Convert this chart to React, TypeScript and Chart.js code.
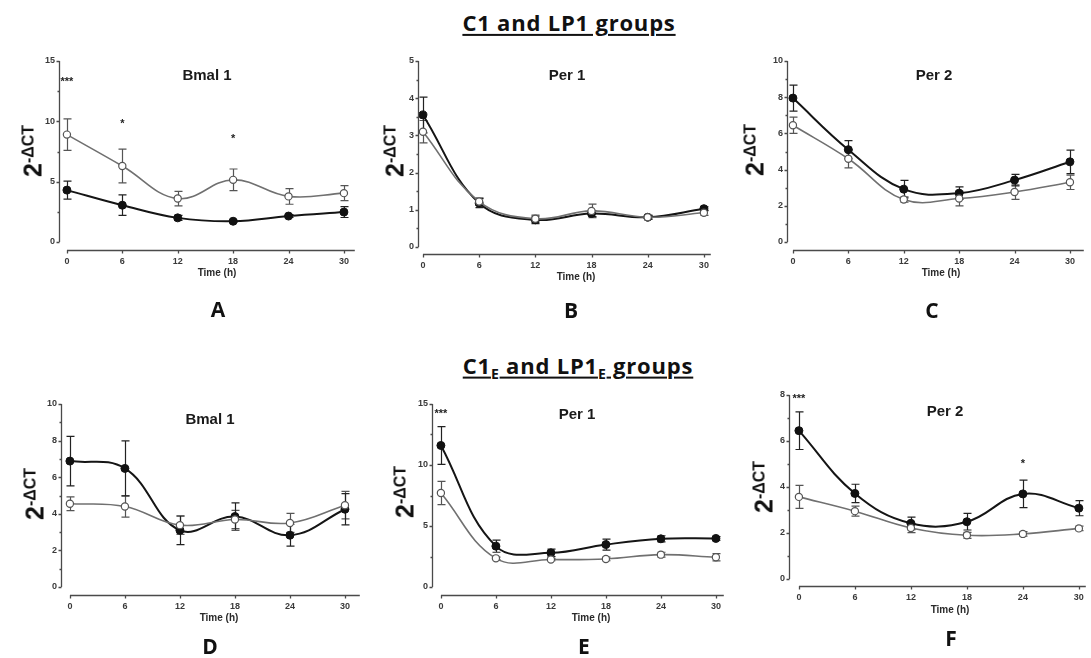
import React, { useEffect, useRef } from "react";
import { Chart, registerables } from "chart.js";

Chart.register(...registerables);

// ---------- shared axes ----------
const HOURS = [0, 6, 12, 18, 24, 30];
const X_TICKS = [0, 6, 12, 18, 24, 30];

// ---------- Panel A : Bmal 1 (C1 / LP1) ----------
const A_FILLED = [4.3, 3.05, 2.0, 1.72, 2.15, 2.48];
const A_FILLED_SEM = [0.75, 0.85, 0.2, 0.1, 0.12, 0.45];
const A_OPEN = [8.9, 6.3, 3.6, 5.15, 3.78, 4.05];
const A_OPEN_SEM = [1.3, 1.4, 0.6, 0.9, 0.65, 0.62];
const A_Y_TICKS = [0, 5, 10, 15];
const A_STARS = [
  { x: 0, y: 13.3, text: "***" },
  { x: 6, y: 9.8, text: "*" },
  { x: 18, y: 8.5, text: "*" },
];

// ---------- Panel B : Per 1 (C1 / LP1) ----------
const B_FILLED = [3.55, 1.18, 0.73, 0.9, 0.8, 1.03];
const B_FILLED_SEM = [0.48, 0.12, 0.1, 0.08, 0.05, 0.05];
const B_OPEN = [3.1, 1.22, 0.76, 0.97, 0.8, 0.92];
const B_OPEN_SEM = [0.3, 0.1, 0.1, 0.18, 0.05, 0.07];
const B_Y_TICKS = [0, 1, 2, 3, 4, 5];
const B_STARS: { x: number; y: number; text: string }[] = [];

// ---------- Panel C : Per 2 (C1 / LP1) ----------
const C_FILLED = [7.95, 5.1, 2.92, 2.7, 3.42, 4.43];
const C_FILLED_SEM = [0.72, 0.5, 0.48, 0.35, 0.32, 0.65];
const C_OPEN = [6.45, 4.6, 2.35, 2.4, 2.76, 3.3];
const C_OPEN_SEM = [0.45, 0.5, 0.15, 0.4, 0.4, 0.4];
const C_Y_TICKS = [0, 2, 4, 6, 8, 10];
const C_STARS: { x: number; y: number; text: string }[] = [];

// ---------- Panel D : Bmal 1 (C1E / LP1E) ----------
const D_FILLED = [6.88, 6.48, 3.1, 3.85, 2.83, 4.25];
const D_FILLED_SEM = [1.35, 1.5, 0.78, 0.75, 0.6, 0.85];
const D_OPEN = [4.55, 4.4, 3.38, 3.69, 3.5, 4.47];
const D_OPEN_SEM = [0.38, 0.58, 0.5, 0.5, 0.52, 0.75];
const D_Y_TICKS = [0, 2, 4, 6, 8, 10];
const D_STARS: { x: number; y: number; text: string }[] = [];

// ---------- Panel E : Per 1 (C1E / LP1E) ----------
const E_FILLED = [11.6, 3.35, 2.8, 3.48, 3.95, 3.98];
const E_FILLED_SEM = [1.55, 0.5, 0.3, 0.45, 0.25, 0.15];
const E_OPEN = [7.7, 2.35, 2.25, 2.3, 2.65, 2.44];
const E_OPEN_SEM = [0.95, 0.1, 0.1, 0.15, 0.2, 0.3];
const E_Y_TICKS = [0, 5, 10, 15];
const E_STARS = [{ x: 0, y: 14.2, text: "***" }];

// ---------- Panel F : Per 2 (C1E / LP1E) ----------
const F_FILLED = [6.45, 3.72, 2.42, 2.49, 3.7, 3.08];
const F_FILLED_SEM = [0.82, 0.4, 0.27, 0.36, 0.6, 0.33];
const F_OPEN = [3.57, 2.95, 2.22, 1.9, 1.96, 2.2];
const F_OPEN_SEM = [0.5, 0.22, 0.2, 0.13, 0.1, 0.1];
const F_Y_TICKS = [0, 2, 4, 6, 8];
const F_STARS = [
  { x: 0, y: 7.83, text: "***" },
  { x: 24, y: 5.0, text: "*" },
];

// ---------- layout (page pixels) ----------
type Geo = { L: number; x0: number; x30: number; R: number; T: number; y0: number; B: number };

const PANELS = [
  { id: "A", title: "Bmal 1", filled: A_FILLED, filledSem: A_FILLED_SEM, open: A_OPEN, openSem: A_OPEN_SEM, yTicks: A_Y_TICKS, stars: A_STARS,
    geo: { L: 59, x0: 67, x30: 347, R: 358, T: 61, y0: 242, B: 251 },
    titlePos: [207, 74], timePos: [217, 273], yTitlePos: [33, 151], letterPos: [218, 309] },
  { id: "B", title: "Per 1", filled: B_FILLED, filledSem: B_FILLED_SEM, open: B_OPEN, openSem: B_OPEN_SEM, yTicks: B_Y_TICKS, stars: B_STARS,
    geo: { L: 418, x0: 423, x30: 707, R: 714, T: 61, y0: 247, B: 255 },
    titlePos: [567, 74], timePos: [576, 277], yTitlePos: [395, 151], letterPos: [571, 310] },
  { id: "C", title: "Per 2", filled: C_FILLED, filledSem: C_FILLED_SEM, open: C_OPEN, openSem: C_OPEN_SEM, yTicks: C_Y_TICKS, stars: C_STARS,
    geo: { L: 787, x0: 793, x30: 1073, R: 1087, T: 61, y0: 242, B: 251 },
    titlePos: [934, 74], timePos: [941, 273], yTitlePos: [755, 150], letterPos: [932, 310] },
  { id: "D", title: "Bmal 1", filled: D_FILLED, filledSem: D_FILLED_SEM, open: D_OPEN, openSem: D_OPEN_SEM, yTicks: D_Y_TICKS, stars: D_STARS,
    geo: { L: 61, x0: 70, x30: 348, R: 363, T: 404, y0: 587, B: 596 },
    titlePos: [210, 418], timePos: [219, 618], yTitlePos: [35, 494], letterPos: [210, 646] },
  { id: "E", title: "Per 1", filled: E_FILLED, filledSem: E_FILLED_SEM, open: E_OPEN, openSem: E_OPEN_SEM, yTicks: E_Y_TICKS, stars: E_STARS,
    geo: { L: 432, x0: 441, x30: 719, R: 727, T: 404, y0: 587, B: 596 },
    titlePos: [577, 413], timePos: [591, 618], yTitlePos: [405, 492], letterPos: [584, 646] },
  { id: "F", title: "Per 2", filled: F_FILLED, filledSem: F_FILLED_SEM, open: F_OPEN, openSem: F_OPEN_SEM, yTicks: F_Y_TICKS, stars: F_STARS,
    geo: { L: 789, x0: 799, x30: 1082, R: 1089, T: 395, y0: 579, B: 587 },
    titlePos: [945, 410], timePos: [950, 610], yTitlePos: [764, 487], letterPos: [951, 638] },
];

const YW = 30; // y-scale box width
const XH = 22; // x-scale box height
const PT = 10; // top padding
const PR = 2; // right padding

const AXIS_COLOR = "#4a4a4a";
const TICK_FONT = { family: '"Liberation Sans", Arial, sans-serif', size: 9, weight: "bold" as const };
const HEAD_FONT = '"Open Sans", Lato, sans-serif';

const gpPlugin = {
  id: "gp",
  beforeDatasetsDraw(chart: any) {
    const { ctx, scales } = chart;
    const x = scales.x;
    const y = scales.y;
    chart.data.datasets.forEach((ds: any) => {
      const errs: number[] = ds.errors;
      if (!errs) return;
      ctx.save();
      ctx.strokeStyle = ds.errorColor;
      ctx.lineWidth = 1.2;
      ds.data.forEach((p: any, i: number) => {
        const px = Math.round(x.getPixelForValue(p.x)) + 0.5;
        const top = y.getPixelForValue(p.y + errs[i]);
        const bot = y.getPixelForValue(p.y - errs[i]);
        ctx.beginPath();
        ctx.moveTo(px, top);
        ctx.lineTo(px, bot);
        ctx.moveTo(px - 4, top);
        ctx.lineTo(px + 4, top);
        ctx.moveTo(px - 4, bot);
        ctx.lineTo(px + 4, bot);
        ctx.stroke();
      });
      ctx.restore();
    });
  },
  afterDraw(chart: any, _args: any, opts: any) {
    const { ctx, chartArea, scales } = chart;
    const x = scales.x;
    const y = scales.y;
    const yTicks: number[] = opts.yTicks || [];
    const yMax = yTicks[yTicks.length - 1];
    ctx.save();
    ctx.strokeStyle = AXIS_COLOR;
    ctx.lineWidth = 1.3;
    // y axis
    const lx = Math.round(chartArea.left) + 0.5;
    ctx.beginPath();
    ctx.moveTo(lx, y.getPixelForValue(0));
    ctx.lineTo(lx, y.getPixelForValue(yMax));
    yTicks.forEach((v: number) => {
      const py = Math.round(y.getPixelForValue(v)) + 0.5;
      ctx.moveTo(lx - 3, py);
      ctx.lineTo(lx, py);
    });
    for (let i = 0; i < yTicks.length - 1; i++) {
      const mid = (yTicks[i] + yTicks[i + 1]) / 2;
      const py = Math.round(y.getPixelForValue(mid)) + 0.5;
      ctx.moveTo(lx - 2, py);
      ctx.lineTo(lx, py);
    }
    ctx.stroke();
    // x axis
    const by = Math.round(chartArea.bottom) - 0.5;
    ctx.beginPath();
    ctx.moveTo(x.getPixelForValue(0), by);
    ctx.lineTo(chartArea.right, by);
    X_TICKS.forEach((v) => {
      const px = Math.round(x.getPixelForValue(v)) + 0.5;
      ctx.moveTo(px, by);
      ctx.lineTo(px, by + 3);
    });
    ctx.stroke();
    // significance marks
    ctx.fillStyle = "#222";
    ctx.font = 'bold 11px "Liberation Sans", Arial, sans-serif';
    ctx.textAlign = "center";
    ctx.textBaseline = "middle";
    (opts.stars || []).forEach((s: any) => {
      ctx.fillText(s.text, x.getPixelForValue(s.x), y.getPixelForValue(s.y));
    });
    ctx.restore();
  },
};

function Panel({ p }: { p: (typeof PANELS)[number] }) {
  const ref = useRef<HTMLCanvasElement | null>(null);
  const g: Geo = p.geo;
  const yMax = p.yTicks[p.yTicks.length - 1];
  const left = g.L - YW;
  const top = g.T - PT;
  const width = YW + (g.R - g.L) + PR;
  const height = PT + (g.B - g.T) + XH;

  useEffect(() => {
    if (!ref.current) return;
    const pxPerH = (g.x30 - g.x0) / 30;
    const xMin = -(g.x0 - g.L) / pxPerH;
    const xMax = 30 + (g.R - g.x30) / pxPerH;
    const pxPerU = (g.y0 - g.T) / yMax;
    const yMin = -(g.B - g.y0) / pxPerU;
    const chart = new Chart(ref.current, {
      type: "line",
      data: {
        datasets: [
          {
            data: HOURS.map((h, i) => ({ x: h, y: p.open[i] })),
            errors: p.openSem,
            errorColor: "#555",
            borderColor: "#707070",
            borderWidth: 1.6,
            tension: 0.4,
            pointRadius: 3.6,
            pointBackgroundColor: "#ffffff",
            pointBorderColor: "#555",
            pointBorderWidth: 1.2,
          } as any,
          {
            data: HOURS.map((h, i) => ({ x: h, y: p.filled[i] })),
            errors: p.filledSem,
            errorColor: "#222",
            borderColor: "#151515",
            borderWidth: 2,
            tension: 0.4,
            pointRadius: 4,
            pointBackgroundColor: "#111",
            pointBorderColor: "#111",
            pointBorderWidth: 1,
          } as any,
        ],
      },
      options: {
        animation: false,
        responsive: false,
        maintainAspectRatio: false,
        layout: { padding: { top: PT, right: PR, left: 0, bottom: 0 } },
        plugins: {
          legend: { display: false },
          tooltip: { enabled: false },
          gp: { yTicks: p.yTicks, stars: p.stars },
        } as any,
        scales: {
          x: {
            type: "linear",
            min: xMin,
            max: xMax,
            afterBuildTicks: (s: any) => {
              s.ticks = X_TICKS.map((v) => ({ value: v }));
            },
            afterFit: (s: any) => {
              s.height = XH;
            },
            grid: { display: false, drawTicks: false },
            border: { display: false },
            ticks: { font: TICK_FONT, color: "#3a3a3a", padding: 5, maxRotation: 0, autoSkip: false },
          },
          y: {
            type: "linear",
            min: yMin,
            max: yMax,
            afterBuildTicks: (s: any) => {
              s.ticks = p.yTicks.map((v) => ({ value: v }));
            },
            afterFit: (s: any) => {
              s.width = YW;
            },
            grid: { display: false, drawTicks: false },
            border: { display: false },
            ticks: { font: TICK_FONT, color: "#3a3a3a", padding: 4, autoSkip: false },
          },
        },
      },
      plugins: [gpPlugin],
    });
    return () => chart.destroy();
  }, []);

  const abs = (cx: number, cy: number, extra: React.CSSProperties = {}): React.CSSProperties => ({
    position: "absolute",
    left: cx,
    top: cy,
    transform: "translate(-50%, -50%)",
    whiteSpace: "nowrap",
    lineHeight: 1,
    ...extra,
  });

  return (
    <>
      <canvas
        ref={ref}
        width={width}
        height={height}
        style={{ position: "absolute", left, top, width, height }}
      />
      <div style={abs(p.titlePos[0], p.titlePos[1], { fontSize: 15, fontWeight: 700, color: "#1a1a1a" })}>{p.title}</div>
      <div style={abs(p.timePos[0], p.timePos[1], { fontSize: 10, fontWeight: 700, color: "#2a2a2a" })}>Time (h)</div>
      <div
        style={abs(p.yTitlePos[0], p.yTitlePos[1], {
          transform: "translate(-50%, -50%) rotate(-90deg)",
          fontWeight: 700,
          color: "#111",
        })}
      >
        <span style={{ fontSize: 25 }}>2</span>
        <span style={{ fontSize: 16, position: "relative", top: -8 }}>-ΔCT</span>
      </div>
      <div style={abs(p.letterPos[0], p.letterPos[1], { fontFamily: HEAD_FONT, fontSize: 21, fontWeight: 700, color: "#111" })}>
        {p.id}
      </div>
    </>
  );
}

export default function App() {
  const head: React.CSSProperties = {
    position: "absolute",
    transform: "translate(-50%, -50%)",
    whiteSpace: "nowrap",
    lineHeight: 1.1,
    fontFamily: HEAD_FONT,
    fontWeight: 700,
    fontSize: 22,
    color: "#111",
    textDecoration: "underline",
    textDecorationThickness: 2,
    textUnderlineOffset: 3,
    letterSpacing: 0.8,
  };
  return (
    <div
      style={{
        position: "absolute",
        left: 0,
        top: 0,
        width: 1091,
        height: 658,
        background: "#ffffff",
        overflow: "hidden",
        fontFamily: '"Liberation Sans", Arial, sans-serif',
      }}
    >
      <div style={{ ...head, left: 569, top: 22 }}>C1 and LP1 groups</div>
      <div style={{ ...head, left: 578, top: 367 }}>
        C1<sub style={{ fontSize: 14 }}>E</sub> and LP1<sub style={{ fontSize: 14 }}>E</sub> groups
      </div>
      {PANELS.map((p) => (
        <Panel key={p.id} p={p} />
      ))}
    </div>
  );
}
